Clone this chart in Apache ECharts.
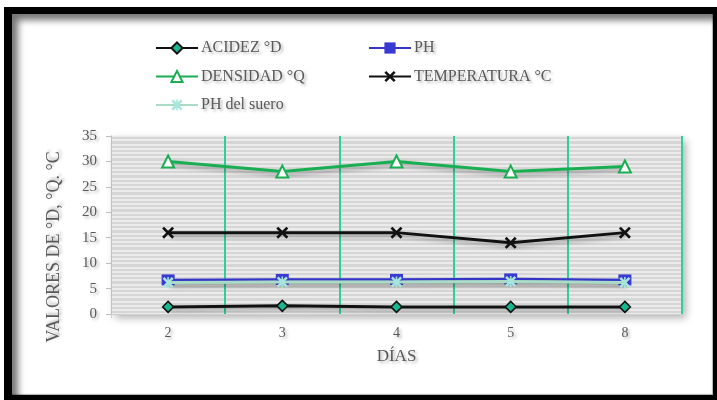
<!DOCTYPE html>
<html>
<head>
<meta charset="utf-8">
<script src="https://cdn.jsdelivr.net/npm/echarts@6/dist/echarts.min.js"></script>
<style>
  html, body { margin: 0; padding: 0; background: #fff; width: 717px; height: 400px; overflow: hidden; }
  #outer { position: absolute; left: 4px; top: 7px; width: 713px; height: 393px; background: #000; }
  #inner { position: absolute; left: 12px; top: 14px; width: 701px; height: 381px; background: #fff;
           box-shadow: inset 6px 6px 7px rgba(0,0,0,0.55), inset -1px -1px 1px rgba(0,0,0,0.3); }
  #chart { position: absolute; left: 0; top: 0; width: 717px; height: 400px; }
</style>
</head>
<body>
<div id="outer"></div>
<div id="inner"></div>
<div id="chart"></div>
<script>
// ---- data ----
var categories = ['2', '3', '4', '5', '8'];
var acidez = [1.4, 1.6, 1.4, 1.4, 1.4];
var ph = [6.7, 6.8, 6.8, 6.9, 6.7];
var densidad = [30, 28, 30, 28, 29];
var temperatura = [16, 16, 16, 14, 16];
var phSuero = [6.2, 6.3, 6.3, 6.4, 6.2];
var seriesNames = ['ACIDEZ °D', 'PH', 'DENSIDAD °Q', 'TEMPERATURA °C', 'PH del suero'];
var yTitle = 'VALORES DE °D, °Q. °C';
var xTitle = 'DÍAS';

var FONT = 'Liberation Serif';
var GRAY = '#595959';
var xPath = 'path://M0,1.6L1.6,0L5,3.4L8.4,0L10,1.6L6.6,5L10,8.4L8.4,10L5,6.6L1.6,10L0,8.4L3.4,5Z';
var starPath = 'path://M0,1.6L1.6,0L5,3.4L8.4,0L10,1.6L6.6,5L10,8.4L8.4,10L5,6.6L1.6,10L0,8.4L3.4,5Z M4.3,0L5.7,0L5.7,10L4.3,10Z';

var shadow = { shadowColor: 'rgba(0,0,0,0.35)', shadowBlur: 4, shadowOffsetX: 2, shadowOffsetY: 3 };
function ls(color, width) {
  return Object.assign({ color: color, width: width }, shadow);
}
var txtShadow = { textShadowColor: 'rgba(0,0,0,0.3)', textShadowBlur: 3, textShadowOffsetX: 2, textShadowOffsetY: 2 };
var legendText = Object.assign({ fontFamily: FONT, fontSize: 16, color: GRAY, lineHeight: 14, padding: [0, 0, 0, -2] }, txtShadow);

var chart = echarts.init(document.getElementById('chart'), null, { renderer: 'canvas' });
var option = {
  backgroundColor: 'transparent',
  animation: false,
  legend: [
    {
      orient: 'vertical', left: 150, top: 35, itemWidth: 42, itemHeight: 14, itemGap: 12.5,
      data: [seriesNames[0], seriesNames[2], seriesNames[4]],
      textStyle: legendText
    },
    {
      orient: 'vertical', left: 363, top: 35, itemWidth: 42, itemHeight: 14, itemGap: 12.5,
      data: [seriesNames[1], seriesNames[3]],
      textStyle: legendText
    }
  ],
  grid: {
    left: 111, right: 35, top: 136, bottom: 86, show: true,
    backgroundColor: '#d6d6d6', borderWidth: 0,
    shadowColor: 'rgba(0,0,0,0.3)', shadowBlur: 8, shadowOffsetX: 4, shadowOffsetY: 4
  },
  xAxis: {
    type: 'category', data: categories, boundaryGap: true,
    name: xTitle, nameLocation: 'middle', nameGap: 34,
    nameTextStyle: Object.assign({ fontFamily: FONT, fontSize: 17, color: GRAY }, txtShadow),
    axisLine: { show: true, lineStyle: { color: '#d0d0d0', width: 1 } },
    axisTick: { show: true, length: 4, lineStyle: { color: '#d0d0d0' } },
    axisLabel: Object.assign({ fontFamily: FONT, fontSize: 14, color: GRAY, margin: 12 }, txtShadow),
    splitLine: { show: true, showMinLine: false, lineStyle: { color: '#2fcf9c', width: 2 } }
  },
  yAxis: {
    type: 'value', min: 0, max: 35, interval: 5,
    axisLine: { show: true, lineStyle: { color: '#bfbfbf', width: 1 } },
    axisTick: { show: true, length: 5, lineStyle: { color: '#bfbfbf' } },
    axisLabel: Object.assign({ fontFamily: FONT, fontSize: 15, color: GRAY, margin: 14 }, txtShadow),
    splitLine: { show: true, lineStyle: { color: '#f2f2f2', width: 1.5 } },
    minorTick: { show: false, splitNumber: 6 },
    minorSplitLine: { show: true, lineStyle: { color: '#f2f2f2', width: 1.5 } }
  },
  graphic: [
    {
      type: 'text', x: 54, y: 247, rotation: Math.PI / 2,
      style: Object.assign({ text: yTitle, fontFamily: FONT, fontSize: 18, fill: GRAY, align: 'center', verticalAlign: 'middle',
        textShadowColor: 'rgba(0,0,0,0.3)', textShadowBlur: 3, textShadowOffsetX: 2, textShadowOffsetY: -2 })
    }
  ],
  series: [
    {
      name: seriesNames[0], type: 'line', data: acidez, z: 3,
      lineStyle: ls('#111111', 3),
      symbol: 'diamond', symbolSize: 11,
      itemStyle: { color: '#17b890', borderColor: '#111111', borderWidth: 1.5 }
    },
    {
      name: seriesNames[1], type: 'line', data: ph, z: 3,
      lineStyle: ls('#3535cc', 2.5),
      symbol: 'rect', symbolSize: [13, 11],
      itemStyle: { color: '#3a3ad2', borderColor: '#3a3ad2', borderWidth: 0 }
    },
    {
      name: seriesNames[2], type: 'line', data: densidad, z: 3,
      lineStyle: ls('#1aae52', 3),
      symbol: 'triangle', symbolSize: 12,
      itemStyle: { color: '#ffffff', borderColor: '#1aae52', borderWidth: 2 }
    },
    {
      name: seriesNames[3], type: 'line', data: temperatura, z: 3,
      lineStyle: ls('#111111', 3),
      symbol: xPath, symbolSize: 12,
      itemStyle: { color: '#111111', borderWidth: 0 }
    },
    {
      name: seriesNames[4], type: 'line', data: phSuero, z: 4,
      lineStyle: ls('#a9dcc6', 3),
      symbol: starPath, symbolSize: 11,
      itemStyle: { color: '#a6e6df', borderWidth: 0 }
    }
  ]
};
chart.setOption(option);
</script>
</body>
</html>
